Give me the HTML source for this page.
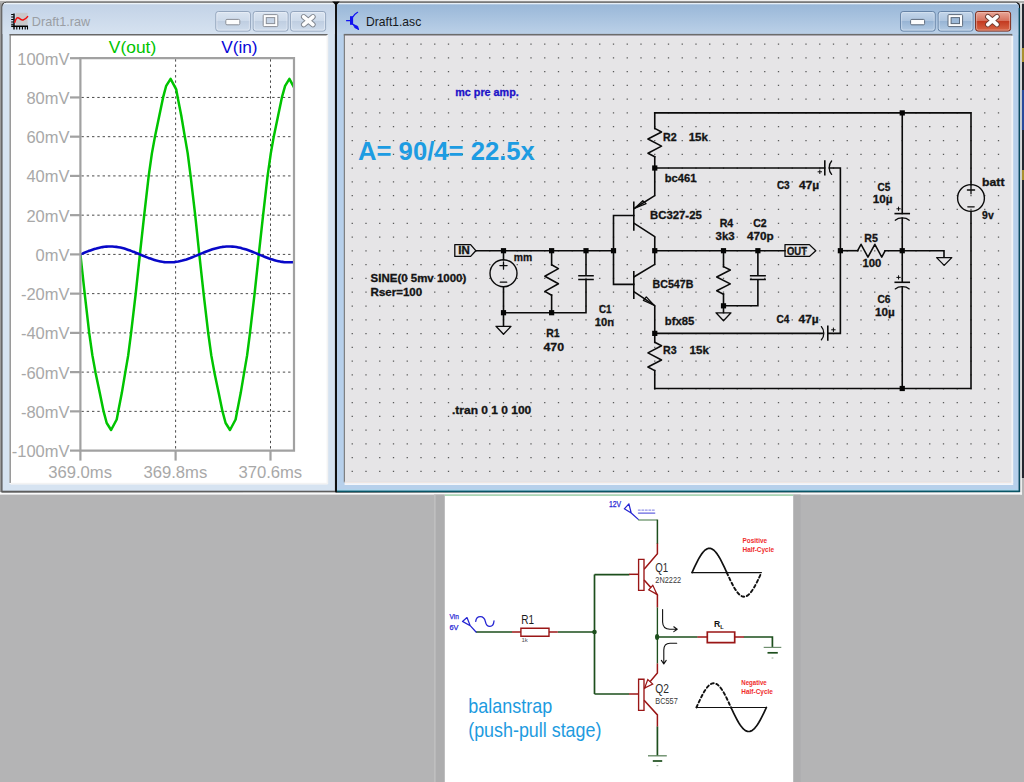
<!DOCTYPE html>
<html><head><meta charset="utf-8"><title>LTspice</title>
<style>html,body{margin:0;padding:0;background:#b4b4b5;overflow:hidden}svg{display:block}text{font-family:"Liberation Sans",sans-serif;white-space:pre}</style>
</head><body>
<svg width="1024" height="782" viewBox="0 0 1024 782">
<defs>
<linearGradient id="tl" x1="0" y1="0" x2="0" y2="1"><stop offset="0" stop-color="#e9eff7"/><stop offset="0.06" stop-color="#c3d3e7"/><stop offset="1" stop-color="#d6e2f0"/></linearGradient>
<linearGradient id="tr" x1="0" y1="0" x2="0" y2="1"><stop offset="0" stop-color="#e2ebf5"/><stop offset="0.06" stop-color="#9ab8d9"/><stop offset="1" stop-color="#bcd1e8"/></linearGradient>
<linearGradient id="bi" x1="0" y1="0" x2="0" y2="1"><stop offset="0" stop-color="#dbe5f1"/><stop offset="0.48" stop-color="#cddaea"/><stop offset="0.5" stop-color="#bfcee1"/><stop offset="1" stop-color="#cfdcec"/></linearGradient>
<linearGradient id="ba" x1="0" y1="0" x2="0" y2="1"><stop offset="0" stop-color="#c4d6ea"/><stop offset="0.48" stop-color="#aec5df"/><stop offset="0.5" stop-color="#97b4d4"/><stop offset="1" stop-color="#b4cbe4"/></linearGradient>
<linearGradient id="bc" x1="0" y1="0" x2="0" y2="1"><stop offset="0" stop-color="#e9a99a"/><stop offset="0.48" stop-color="#d6705c"/><stop offset="0.5" stop-color="#c33a20"/><stop offset="1" stop-color="#d8694a"/></linearGradient>
</defs>
<rect x="0" y="0" width="1024" height="782" fill="#b4b4b5"/>
<rect x="0" y="0" width="1024" height="3" fill="#efefef"/>
<rect x="0" y="1.2" width="1024" height="1.6" fill="#9f9f9f"/>
<rect x="0" y="492.2" width="1022" height="2.4" fill="#fafafa"/>
<rect x="0" y="3" width="1.4" height="489" fill="#9a9a9a"/>
<path d="M1.9 491.8 V7 Q1.9 2.6 6.5 2.6 H335.5 V491.4 Z" fill="#d6e3f1" stroke="#4d4d4d" stroke-width="1.2"/>
<path d="M2.6 34 V7.5 Q2.6 3.2 7 3.2 H334.8 V34 Z" fill="url(#tl)"/>
<rect x="6" y="1.3" width="329" height="1.6" fill="#8c8c8c"/>
<rect x="4" y="3" width="331" height="1" fill="#eef3f9" opacity="0.95"/>
<rect x="9.6" y="34" width="318" height="450" fill="#ffffff"/>
<rect x="9.6" y="34" width="318" height="1.5" fill="#686868"/>
<rect x="9.6" y="34" width="1.1" height="449" fill="#6f6f6f"/>
<rect x="10.6" y="482.8" width="317" height="1.8" fill="#f3f3f3"/>
<rect x="326.6" y="35" width="1.6" height="449" fill="#f3f3f3"/>
<rect x="2" y="490.7" width="333" height="1.6" fill="#5e5e5e"/>
<path d="M336.2 491.8 V2.6 H1015 Q1019.6 2.6 1019.6 7.5 V491.4 Z" fill="#b7d0eb" stroke="#111" stroke-width="1.3"/>
<path d="M337 35 V3.2 H1015 Q1018.8 3.2 1018.8 7.5 V35 Z" fill="url(#tr)"/>
<rect x="337.2" y="1.3" width="679" height="1.6" fill="#858585"/>
<rect x="337" y="3" width="680" height="1" fill="#e8eff7" opacity="0.95"/>
<rect x="344.3" y="35" width="668" height="446.6" fill="#e6e5e7"/>
<rect x="343.8" y="33.9" width="668.5" height="1.8" fill="#6c6c6c"/>
<rect x="345" y="35.7" width="666.4" height="1.6" fill="#e8e5ee"/>
<rect x="343.8" y="34.4" width="1.1" height="448" fill="#777"/>
<rect x="344.6" y="481.4" width="668.6" height="1.8" fill="#efe7e3"/><rect x="344.6" y="483.1" width="668.6" height="1.9" fill="#f4f6fa"/><rect x="337" y="489.7" width="682" height="1" fill="#9fdcee"/>
<rect x="1011.4" y="36" width="1.8" height="447" fill="#f5f5f5"/>
<rect x="336.8" y="490.6" width="683" height="1.6" fill="#0a5566"/>
<rect x="1018.6" y="8" width="1.6" height="484" fill="#0b4c60"/>
<rect x="335.2" y="3" width="1.6" height="489.3" fill="#0a0a0a"/>
<rect x="1020.3" y="3" width="1.6" height="491.5" fill="#f2f2f2"/>
<rect x="1021.9" y="4" width="2.2" height="474" fill="#23262e"/>
<rect x="1021.9" y="48" width="2.2" height="14" fill="#a89030"/>
<rect x="1021.9" y="170" width="2.2" height="10" fill="#a89030"/>
<rect x="1021.9" y="90" width="2.2" height="40" fill="#2a4a9a"/>
<g>
<rect x="15.8" y="12.8" width="11.8" height="12.6" fill="#c9c8ca"/>
<path d="M14 13.5 V29.5 M11.2 26.3 H28" stroke="#000" stroke-width="1.4" fill="none"/>
<path d="M11.2 14.5 h2.5 M11.2 17 h2.5 M11.2 19.5 h2.5 M11.2 22 h2.5 M11.2 24.3 h2.5" stroke="#000" stroke-width="1" fill="none"/>
<path d="M16.8 26.5 v3 M19.6 26.5 v3 M22.4 26.5 v3 M25.2 26.5 v3 M27.5 26.5 v3" stroke="#000" stroke-width="1.1" fill="none"/>
<path d="M14.8 22.3 C16.2 17.5 17.8 16.8 19.5 18.6 C21.5 20.8 24.5 20.6 27.6 16.6" stroke="#f20d0d" stroke-width="1.5" fill="none" stroke-linecap="round"/>
</g>
<text x="31.8" y="26.2" font-size="12.6" fill="#9a9ea4" font-weight="normal" text-anchor="start" textLength="58.4" lengthAdjust="spacingAndGlyphs">Draft1.raw</text>
<g stroke="#1212f2" fill="none" stroke-linecap="round">
<rect x="350" y="16.2" width="3.1" height="8.6" fill="#1212f2" stroke="none"/>
<path d="M346.6 20.7 H350.4" stroke-width="1.3"/>
<path d="M352.6 17.2 C354 15 355.6 13.4 357.6 12.3" stroke-width="1.2"/>
<path d="M352.6 24 L358.5 29.4" stroke-width="1.1"/>
<path d="M353.9 24.7 L357.7 26.3 L358.5 29.4 L355 27.8 Z" fill="#1212f2" stroke-width="0.8"/>
</g>
<text x="366" y="26.1" font-size="12.6" fill="#15181c" font-weight="normal" text-anchor="start" textLength="55.2" lengthAdjust="spacingAndGlyphs">Draft1.asc</text>
<path d="M332.2 1.6 H339.8 L336.6 5 H335.4 Z" fill="#0a0a0a"/>
<rect x="215.8" y="11.5" width="34.6" height="19.6" rx="2.5" fill="url(#bi)" stroke="#93a5bd" stroke-width="1"/>
<rect x="216.8" y="12.5" width="32.6" height="17.6" rx="2" fill="none" stroke="#eef3f9" stroke-width="0.8" opacity="0.7"/>
<rect x="253.2" y="11.5" width="34.8" height="19.6" rx="2.5" fill="url(#bi)" stroke="#93a5bd" stroke-width="1"/>
<rect x="254.2" y="12.5" width="32.8" height="17.6" rx="2" fill="none" stroke="#eef3f9" stroke-width="0.8" opacity="0.7"/>
<rect x="290.6" y="11.5" width="35" height="19.6" rx="2.5" fill="url(#bi)" stroke="#93a5bd" stroke-width="1"/>
<rect x="291.6" y="12.5" width="33" height="17.6" rx="2" fill="none" stroke="#eef3f9" stroke-width="0.8" opacity="0.7"/>
<rect x="225.8" y="19.4" width="14" height="5.4" rx="1.2" fill="#fdfdfd" stroke="#8a8f98" stroke-width="1"/>
<rect x="263.2" y="14.600000000000001" width="14.6" height="12" rx="1" fill="#fdfdfd" stroke="#8a8f98" stroke-width="1"/>
<rect x="266.3" y="17.6" width="8.4" height="6" fill="#c6d4e6" stroke="#8a8f98" stroke-width="1"/>
<g transform="translate(308.3 20.7)" stroke-linecap="round"><path d="M-4.6 -3.9 L4.6 3.9 M4.6 -3.9 L-4.6 3.9" stroke="#7f858e" stroke-width="5.5" fill="none"/><path d="M-4.6 -3.9 L4.6 3.9 M4.6 -3.9 L-4.6 3.9" stroke="#fdfdfd" stroke-width="3.7" fill="none"/></g>
<rect x="900.6" y="11.5" width="34.6" height="19.6" rx="2.5" fill="url(#ba)" stroke="#6683a6" stroke-width="1"/>
<rect x="901.6" y="12.5" width="32.6" height="17.6" rx="2" fill="none" stroke="#dfe9f4" stroke-width="0.8" opacity="0.7"/>
<rect x="938.2" y="11.5" width="34.8" height="19.6" rx="2.5" fill="url(#ba)" stroke="#6683a6" stroke-width="1"/>
<rect x="939.2" y="12.5" width="32.8" height="17.6" rx="2" fill="none" stroke="#dfe9f4" stroke-width="0.8" opacity="0.7"/>
<rect x="975.6" y="11.5" width="35" height="19.6" rx="2.5" fill="url(#bc)" stroke="#7a2a1a" stroke-width="1"/>
<rect x="976.6" y="12.5" width="33" height="17.6" rx="2" fill="none" stroke="#f3c6bb" stroke-width="0.8" opacity="0.7"/>
<rect x="910.6" y="19.4" width="14" height="5.4" rx="1.2" fill="#fdfdfd" stroke="#5d6b7c" stroke-width="1"/>
<rect x="948.0" y="14.600000000000001" width="14.6" height="12" rx="1" fill="#fdfdfd" stroke="#5d6b7c" stroke-width="1"/>
<rect x="951.0999999999999" y="17.6" width="8.4" height="6" fill="#9db9d8" stroke="#5d6b7c" stroke-width="1"/>
<g transform="translate(992.4 20.6)" stroke-linecap="round"><path d="M-4.6 -3.9 L4.6 3.9 M4.6 -3.9 L-4.6 3.9" stroke="#6b3a30" stroke-width="5.5" fill="none"/><path d="M-4.6 -3.9 L4.6 3.9 M4.6 -3.9 L-4.6 3.9" stroke="#fdfdfd" stroke-width="3.7" fill="none"/></g>
<path d="M81.4 97.44 H293.0" stroke="#4a4a4a" stroke-width="1" stroke-dasharray="2.4 2.9" fill="none"/>
<path d="M81.4 136.68 H293.0" stroke="#4a4a4a" stroke-width="1" stroke-dasharray="2.4 2.9" fill="none"/>
<path d="M81.4 175.92 H293.0" stroke="#4a4a4a" stroke-width="1" stroke-dasharray="2.4 2.9" fill="none"/>
<path d="M81.4 215.16 H293.0" stroke="#4a4a4a" stroke-width="1" stroke-dasharray="2.4 2.9" fill="none"/>
<path d="M81.4 254.40 H293.0" stroke="#4a4a4a" stroke-width="1" stroke-dasharray="2.4 2.9" fill="none"/>
<path d="M81.4 293.64 H293.0" stroke="#4a4a4a" stroke-width="1" stroke-dasharray="2.4 2.9" fill="none"/>
<path d="M81.4 332.88 H293.0" stroke="#4a4a4a" stroke-width="1" stroke-dasharray="2.4 2.9" fill="none"/>
<path d="M81.4 372.12 H293.0" stroke="#4a4a4a" stroke-width="1" stroke-dasharray="2.4 2.9" fill="none"/>
<path d="M81.4 411.36 H293.0" stroke="#4a4a4a" stroke-width="1" stroke-dasharray="2.4 2.9" fill="none"/>
<path d="M175.6 59.2 V449.6" stroke="#4a4a4a" stroke-width="1" stroke-dasharray="2.4 2.9" fill="none"/>
<path d="M270.5 59.2 V449.6" stroke="#4a4a4a" stroke-width="1" stroke-dasharray="2.4 2.9" fill="none"/>
<clipPath id="pc"><rect x="80.4" y="58.2" width="214.1" height="392.40000000000003"/></clipPath>
<polyline clip-path="url(#pc)" fill="none" stroke="#00c400" stroke-width="2.5" stroke-linejoin="round" points="80.4,254.4 84.7,293.6 89.2,332.9 92.4,355.4 95.6,372.9 99.8,393.1 103.6,411.4 106.7,423.0 111.1,430.0 116.7,419.5 118.2,411.4 121.8,393.1 125.2,372.9 128.2,355.4 131.1,332.9 135.7,293.6 139.9,254.4 144.2,215.2 148.7,175.9 151.9,153.4 155.1,135.9 159.3,115.7 163.1,97.4 166.2,85.8 170.6,78.8 176.2,89.3 177.7,97.4 181.3,115.7 184.7,135.9 187.7,153.4 190.6,175.9 195.2,215.2 199.3,254.4 203.6,293.6 208.2,332.9 211.3,355.4 214.5,372.9 218.7,393.1 222.5,411.4 225.6,423.0 230.0,430.0 235.6,419.5 237.1,411.4 240.7,393.1 244.1,372.9 247.1,355.4 250.0,332.9 254.6,293.6 258.8,254.4 263.1,215.2 267.6,175.9 270.8,153.4 273.9,135.9 278.1,115.7 281.9,97.4 285.1,85.8 289.4,78.8 295.1,89.3 296.6,97.4 300.1,115.7 303.6,135.9 306.6,153.4 309.4,175.9 314.1,215.2 318.2,254.4 322.5,293.6 327.1,332.9 330.2,355.4 333.4,372.9 337.6,393.1 341.4,411.4 344.5,423.0 348.9,430.0 354.5,419.5 356.0,411.4 359.6,393.1 363.0,372.9 366.0,355.4 368.9,332.9 373.5,293.6"/>
<polyline clip-path="url(#pc)" fill="none" stroke="#0808c8" stroke-width="2.6" stroke-linejoin="round" points="80.4,254.4 82.4,253.6 84.4,252.7 86.4,251.9 88.4,251.1 90.4,250.4 92.4,249.7 94.4,249.0 96.4,248.5 98.4,247.9 100.4,247.5 102.4,247.1 104.4,246.8 106.4,246.6 108.4,246.5 110.4,246.5 112.4,246.5 114.4,246.7 116.4,246.9 118.4,247.2 120.4,247.6 122.4,248.1 124.4,248.6 126.4,249.2 128.4,249.9 130.4,250.6 132.4,251.4 134.4,252.1 136.4,253.0 138.4,253.8 140.4,254.6 142.4,255.5 144.4,256.3 146.4,257.1 148.4,257.9 150.4,258.6 152.4,259.3 154.4,259.9 156.4,260.5 158.4,261.0 160.4,261.4 162.4,261.8 164.4,262.1 166.4,262.2 168.4,262.3 170.4,262.3 172.4,262.3 174.4,262.1 176.4,261.8 178.4,261.5 180.4,261.1 182.4,260.6 184.4,260.0 186.4,259.4 188.4,258.7 190.4,258.0 192.4,257.2 194.4,256.4 196.4,255.6 198.4,254.8 200.4,253.9 202.4,253.1 204.4,252.3 206.4,251.5 208.4,250.7 210.4,250.0 212.4,249.3 214.4,248.7 216.4,248.2 218.4,247.7 220.4,247.3 222.4,246.9 224.4,246.7 226.4,246.5 228.4,246.5 230.4,246.5 232.4,246.6 234.4,246.8 236.4,247.0 238.4,247.4 240.4,247.8 242.4,248.4 244.4,248.9 246.4,249.6 248.4,250.3 250.4,251.0 252.4,251.8 254.4,252.6 256.4,253.4 258.4,254.3 260.4,255.1 262.4,255.9 264.4,256.7 266.4,257.5 268.4,258.3 270.4,259.0 272.4,259.6 274.4,260.2 276.4,260.8 278.4,261.2 280.4,261.6 282.4,261.9 284.4,262.2 286.4,262.3 288.4,262.3 290.4,262.3 292.4,262.2 294.4,262.0"/>
<path d="M80.4 450.6 V58.2 H294.0 V450.6 Z" fill="none" stroke="#a1a1a1" stroke-width="2.2"/>
<path d="M70 58.20 H80.4" stroke="#a1a1a1" stroke-width="2.2"/>
<path d="M70 97.44 H80.4" stroke="#a1a1a1" stroke-width="2.2"/>
<path d="M70 136.68 H80.4" stroke="#a1a1a1" stroke-width="2.2"/>
<path d="M70 175.92 H80.4" stroke="#a1a1a1" stroke-width="2.2"/>
<path d="M70 215.16 H80.4" stroke="#a1a1a1" stroke-width="2.2"/>
<path d="M70 254.40 H80.4" stroke="#a1a1a1" stroke-width="2.2"/>
<path d="M70 293.64 H80.4" stroke="#a1a1a1" stroke-width="2.2"/>
<path d="M70 332.88 H80.4" stroke="#a1a1a1" stroke-width="2.2"/>
<path d="M70 372.12 H80.4" stroke="#a1a1a1" stroke-width="2.2"/>
<path d="M70 411.36 H80.4" stroke="#a1a1a1" stroke-width="2.2"/>
<path d="M70 450.60 H80.4" stroke="#a1a1a1" stroke-width="2.2"/>
<path d="M80.4 450.6 V460.6" stroke="#a1a1a1" stroke-width="2.2"/>
<path d="M175.6 450.6 V460.6" stroke="#a1a1a1" stroke-width="2.2"/>
<path d="M270.5 450.6 V460.6" stroke="#a1a1a1" stroke-width="2.2"/>
<text transform="translate(69.5 64.6) scale(0.948 1)" font-size="17.4" fill="#a8a8a8" text-anchor="end">100mV</text>
<text transform="translate(69.5 103.8) scale(0.948 1)" font-size="17.4" fill="#a8a8a8" text-anchor="end">80mV</text>
<text transform="translate(69.5 143.1) scale(0.948 1)" font-size="17.4" fill="#a8a8a8" text-anchor="end">60mV</text>
<text transform="translate(69.5 182.3) scale(0.948 1)" font-size="17.4" fill="#a8a8a8" text-anchor="end">40mV</text>
<text transform="translate(69.5 221.6) scale(0.948 1)" font-size="17.4" fill="#a8a8a8" text-anchor="end">20mV</text>
<text transform="translate(69.5 260.8) scale(0.948 1)" font-size="17.4" fill="#a8a8a8" text-anchor="end">0mV</text>
<text transform="translate(69.5 300.0) scale(0.948 1)" font-size="17.4" fill="#a8a8a8" text-anchor="end">-20mV</text>
<text transform="translate(69.5 339.3) scale(0.948 1)" font-size="17.4" fill="#a8a8a8" text-anchor="end">-40mV</text>
<text transform="translate(69.5 378.5) scale(0.948 1)" font-size="17.4" fill="#a8a8a8" text-anchor="end">-60mV</text>
<text transform="translate(69.5 417.8) scale(0.948 1)" font-size="17.4" fill="#a8a8a8" text-anchor="end">-80mV</text>
<text transform="translate(69.5 457.0) scale(0.948 1)" font-size="17.4" fill="#a8a8a8" text-anchor="end">-100mV</text>
<text x="48.2" y="477.6" font-size="17.3" fill="#a8a8a8" font-weight="normal" text-anchor="start" textLength="63.8" lengthAdjust="spacingAndGlyphs">369.0ms</text>
<text x="143.5" y="477.6" font-size="17.3" fill="#a8a8a8" font-weight="normal" text-anchor="start" textLength="63.8" lengthAdjust="spacingAndGlyphs">369.8ms</text>
<text x="238.4" y="477.6" font-size="17.3" fill="#a8a8a8" font-weight="normal" text-anchor="start" textLength="63.8" lengthAdjust="spacingAndGlyphs">370.6ms</text>
<text x="108.8" y="52.5" font-size="17.3" fill="#00c400" font-weight="normal" text-anchor="start" textLength="47.4" lengthAdjust="spacingAndGlyphs">V(out)</text>
<text x="221.2" y="52.5" font-size="17.3" fill="#0808d8" font-weight="normal" text-anchor="start" textLength="36.4" lengthAdjust="spacingAndGlyphs">V(in)</text>
<path d="M351.6 44.00 H1000" stroke="#5a5a5a" stroke-width="1.25" stroke-dasharray="1.3 12.45" fill="none"/>
<path d="M351.6 57.79 H1000" stroke="#5a5a5a" stroke-width="1.25" stroke-dasharray="1.3 12.45" fill="none"/>
<path d="M351.6 71.58 H1000" stroke="#5a5a5a" stroke-width="1.25" stroke-dasharray="1.3 12.45" fill="none"/>
<path d="M351.6 85.37 H1000" stroke="#5a5a5a" stroke-width="1.25" stroke-dasharray="1.3 12.45" fill="none"/>
<path d="M351.6 99.16 H1000" stroke="#5a5a5a" stroke-width="1.25" stroke-dasharray="1.3 12.45" fill="none"/>
<path d="M351.6 112.95 H1000" stroke="#5a5a5a" stroke-width="1.25" stroke-dasharray="1.3 12.45" fill="none"/>
<path d="M351.6 126.74 H1000" stroke="#5a5a5a" stroke-width="1.25" stroke-dasharray="1.3 12.45" fill="none"/>
<path d="M351.6 140.53 H1000" stroke="#5a5a5a" stroke-width="1.25" stroke-dasharray="1.3 12.45" fill="none"/>
<path d="M351.6 154.32 H1000" stroke="#5a5a5a" stroke-width="1.25" stroke-dasharray="1.3 12.45" fill="none"/>
<path d="M351.6 168.11 H1000" stroke="#5a5a5a" stroke-width="1.25" stroke-dasharray="1.3 12.45" fill="none"/>
<path d="M351.6 181.90 H1000" stroke="#5a5a5a" stroke-width="1.25" stroke-dasharray="1.3 12.45" fill="none"/>
<path d="M351.6 195.69 H1000" stroke="#5a5a5a" stroke-width="1.25" stroke-dasharray="1.3 12.45" fill="none"/>
<path d="M351.6 209.48 H1000" stroke="#5a5a5a" stroke-width="1.25" stroke-dasharray="1.3 12.45" fill="none"/>
<path d="M351.6 223.27 H1000" stroke="#5a5a5a" stroke-width="1.25" stroke-dasharray="1.3 12.45" fill="none"/>
<path d="M351.6 237.06 H1000" stroke="#5a5a5a" stroke-width="1.25" stroke-dasharray="1.3 12.45" fill="none"/>
<path d="M351.6 250.85 H1000" stroke="#5a5a5a" stroke-width="1.25" stroke-dasharray="1.3 12.45" fill="none"/>
<path d="M351.6 264.64 H1000" stroke="#5a5a5a" stroke-width="1.25" stroke-dasharray="1.3 12.45" fill="none"/>
<path d="M351.6 278.43 H1000" stroke="#5a5a5a" stroke-width="1.25" stroke-dasharray="1.3 12.45" fill="none"/>
<path d="M351.6 292.22 H1000" stroke="#5a5a5a" stroke-width="1.25" stroke-dasharray="1.3 12.45" fill="none"/>
<path d="M351.6 306.01 H1000" stroke="#5a5a5a" stroke-width="1.25" stroke-dasharray="1.3 12.45" fill="none"/>
<path d="M351.6 319.80 H1000" stroke="#5a5a5a" stroke-width="1.25" stroke-dasharray="1.3 12.45" fill="none"/>
<path d="M351.6 333.59 H1000" stroke="#5a5a5a" stroke-width="1.25" stroke-dasharray="1.3 12.45" fill="none"/>
<path d="M351.6 347.38 H1000" stroke="#5a5a5a" stroke-width="1.25" stroke-dasharray="1.3 12.45" fill="none"/>
<path d="M351.6 361.17 H1000" stroke="#5a5a5a" stroke-width="1.25" stroke-dasharray="1.3 12.45" fill="none"/>
<path d="M351.6 374.96 H1000" stroke="#5a5a5a" stroke-width="1.25" stroke-dasharray="1.3 12.45" fill="none"/>
<path d="M351.6 388.75 H1000" stroke="#5a5a5a" stroke-width="1.25" stroke-dasharray="1.3 12.45" fill="none"/>
<path d="M351.6 402.54 H1000" stroke="#5a5a5a" stroke-width="1.25" stroke-dasharray="1.3 12.45" fill="none"/>
<path d="M351.6 416.33 H1000" stroke="#5a5a5a" stroke-width="1.25" stroke-dasharray="1.3 12.45" fill="none"/>
<path d="M351.6 430.12 H1000" stroke="#5a5a5a" stroke-width="1.25" stroke-dasharray="1.3 12.45" fill="none"/>
<path d="M351.6 443.91 H1000" stroke="#5a5a5a" stroke-width="1.25" stroke-dasharray="1.3 12.45" fill="none"/>
<path d="M351.6 457.70 H1000" stroke="#5a5a5a" stroke-width="1.25" stroke-dasharray="1.3 12.45" fill="none"/>
<path d="M351.6 471.49 H1000" stroke="#5a5a5a" stroke-width="1.25" stroke-dasharray="1.3 12.45" fill="none"/>
<path d="M454.8 244.6 H470.6 L475.8 250.7 L470.6 256.4 H454.8 Z" stroke="#0a0a0a" stroke-width="1.3" fill="none" stroke-linejoin="round" stroke-linecap="round"/>
<text x="458.2" y="254.4" font-size="10.4" fill="#141414" font-weight="bold" text-anchor="start" textLength="11.5" lengthAdjust="spacingAndGlyphs" stroke="#141414" stroke-width="0.3">IN</text>
<path d="M476 250.7 H613.5" stroke="#0a0a0a" stroke-width="1.6" fill="none" stroke-linejoin="miter" stroke-linecap="square"/>
<path d="M503.5 250.7 V259.8" stroke="#0a0a0a" stroke-width="1.6" fill="none" stroke-linejoin="miter" stroke-linecap="square"/>
<circle cx="503.5" cy="273.3" r="13.5" fill="none" stroke="#0a0a0a" stroke-width="1.4"/>
<path d="M499.9 265.6 H507.1 M503.5 262 V269.2" stroke="#0a0a0a" stroke-width="1.3" fill="none" stroke-linejoin="round" stroke-linecap="round"/>
<path d="M500.3 282.2 H506.7" stroke="#0a0a0a" stroke-width="1.3" fill="none" stroke-linejoin="round" stroke-linecap="round"/>
<path d="M503.5 286.8 V312.71 H586.0 V280" stroke="#0a0a0a" stroke-width="1.6" fill="none" stroke-linejoin="miter" stroke-linecap="square"/>
<path d="M496.00 326.3 H511.00 L503.50 334.3 Z" stroke="#0a0a0a" stroke-width="1.3" fill="none" stroke-linejoin="round" stroke-linecap="round"/>
<path d="M503.5 312.71 V326" stroke="#0a0a0a" stroke-width="1.6" fill="none" stroke-linejoin="miter" stroke-linecap="square"/>
<path d="M551.62 250.7 V265" stroke="#0a0a0a" stroke-width="1.6" fill="none" stroke-linejoin="miter" stroke-linecap="square"/>
<path d="M551.62 264.80 L558.42 268.60 L544.82 276.20 L558.42 283.80 L544.82 291.40 L551.62 295.20" stroke="#0a0a0a" stroke-width="1.55" fill="none" stroke-linejoin="round" stroke-linecap="round"/>
<path d="M551.62 295 V312.71" stroke="#0a0a0a" stroke-width="1.6" fill="none" stroke-linejoin="miter" stroke-linecap="square"/>
<path d="M586.0 250.7 V275.2" stroke="#0a0a0a" stroke-width="1.6" fill="none" stroke-linejoin="miter" stroke-linecap="square"/>
<path d="M579.0 275.7 H593.0 M579.0 279.5 H593.0" stroke="#0a0a0a" stroke-width="1.6" fill="none" stroke-linejoin="miter" stroke-linecap="square"/>
<rect x="500.90" y="248.10" width="5.2" height="5.2" fill="#050505"/>
<rect x="549.02" y="248.10" width="5.2" height="5.2" fill="#050505"/>
<rect x="583.40" y="248.10" width="5.2" height="5.2" fill="#050505"/>
<rect x="610.90" y="248.10" width="5.2" height="5.2" fill="#050505"/>
<rect x="500.90" y="310.11" width="5.2" height="5.2" fill="#050505"/>
<rect x="549.02" y="310.11" width="5.2" height="5.2" fill="#050505"/>
<path d="M613.5 215.5 V284.4 M613.5 215.5 H633.8 M613.5 284.4 H633.8" stroke="#0a0a0a" stroke-width="1.6" fill="none" stroke-linejoin="miter" stroke-linecap="square"/>
<path d="M633.8 202.4 V230" stroke="#0a0a0a" stroke-width="1.6" fill="none" stroke-linejoin="miter" stroke-linecap="square"/>
<path d="M633.8 271.9 V298.2" stroke="#0a0a0a" stroke-width="1.6" fill="none" stroke-linejoin="miter" stroke-linecap="square"/>
<path d="M654.75 168.02 V195.6 L634.2 208.5" stroke="#0a0a0a" stroke-width="1.6" fill="none" stroke-linejoin="round" stroke-linecap="round"/>
<path d="M634.2 223.3 L654.75 236.7 V250.7" stroke="#0a0a0a" stroke-width="1.6" fill="none" stroke-linejoin="round" stroke-linecap="round"/>
<path d="M634.8 208.2 L642.8 200.7 L646.1 203.7 Z" stroke="#0a0a0a" stroke-width="1.25" fill="none" stroke-linejoin="round" stroke-linecap="round"/>
<path d="M654.75 250.7 V264.4 L634.2 276.8" stroke="#0a0a0a" stroke-width="1.6" fill="none" stroke-linejoin="round" stroke-linecap="round"/>
<path d="M634.2 291.8 L654.75 305.6 V333.38" stroke="#0a0a0a" stroke-width="1.6" fill="none" stroke-linejoin="round" stroke-linecap="round"/>
<path d="M654 305.2 L643.4 300.4 L646.3 296.9 Z" stroke="#0a0a0a" stroke-width="1.25" fill="none" stroke-linejoin="round" stroke-linecap="round"/>
<path d="M654.75 112.9 V128.6" stroke="#0a0a0a" stroke-width="1.6" fill="none" stroke-linejoin="miter" stroke-linecap="square"/>
<path d="M654.75 128.40 L661.55 131.95 L647.95 139.05 L661.55 146.15 L647.95 153.25 L654.75 156.80" stroke="#0a0a0a" stroke-width="1.55" fill="none" stroke-linejoin="round" stroke-linecap="round"/>
<path d="M654.75 156.8 V168.02" stroke="#0a0a0a" stroke-width="1.6" fill="none" stroke-linejoin="miter" stroke-linecap="square"/>
<path d="M654.75 333.38 V342.4" stroke="#0a0a0a" stroke-width="1.6" fill="none" stroke-linejoin="miter" stroke-linecap="square"/>
<path d="M654.75 342.20 L661.55 345.75 L647.95 352.85 L661.55 359.95 L647.95 367.05 L654.75 370.60" stroke="#0a0a0a" stroke-width="1.55" fill="none" stroke-linejoin="round" stroke-linecap="round"/>
<path d="M654.75 370.6 V388.5" stroke="#0a0a0a" stroke-width="1.6" fill="none" stroke-linejoin="miter" stroke-linecap="square"/>
<path d="M654.75 112.9 H971.0 V184.6 M971.0 211.4 V388.5 H654.75" stroke="#0a0a0a" stroke-width="1.6" fill="none" stroke-linejoin="miter" stroke-linecap="square"/>
<circle cx="971.0" cy="198" r="13.4" fill="none" stroke="#0a0a0a" stroke-width="1.4"/>
<path d="M967.4 190 H974.6 M971.0 184.6 V193.8" stroke="#0a0a0a" stroke-width="1.3" fill="none" stroke-linejoin="round" stroke-linecap="round"/>
<path d="M967.8 206.8 H974.2" stroke="#0a0a0a" stroke-width="1.3" fill="none" stroke-linejoin="round" stroke-linecap="round"/>
<path d="M654.75 250.7 H785" stroke="#0a0a0a" stroke-width="1.6" fill="none" stroke-linejoin="miter" stroke-linecap="square"/>
<path d="M785 244.6 H809.4 L815.8 250.7 L809.4 256.4 H785 Z" stroke="#0a0a0a" stroke-width="1.3" fill="none" stroke-linejoin="round" stroke-linecap="round"/>
<text x="787" y="254.5" font-size="10.4" fill="#141414" font-weight="bold" text-anchor="start" textLength="20" lengthAdjust="spacingAndGlyphs" stroke="#141414" stroke-width="0.3">OUT</text>
<path d="M723.5 250.7 V266.8" stroke="#0a0a0a" stroke-width="1.6" fill="none" stroke-linejoin="miter" stroke-linecap="square"/>
<path d="M723.50 266.60 L730.30 270.05 L716.70 276.95 L730.30 283.85 L716.70 290.75 L723.50 294.20" stroke="#0a0a0a" stroke-width="1.55" fill="none" stroke-linejoin="round" stroke-linecap="round"/>
<path d="M723.5 294 V312.6" stroke="#0a0a0a" stroke-width="1.6" fill="none" stroke-linejoin="miter" stroke-linecap="square"/>
<path d="M716.00 312.8 H731.00 L723.50 320.8 Z" stroke="#0a0a0a" stroke-width="1.3" fill="none" stroke-linejoin="round" stroke-linecap="round"/>
<path d="M723.5 305.82 H757.88 V280 M757.88 250.7 V275.2" stroke="#0a0a0a" stroke-width="1.6" fill="none" stroke-linejoin="miter" stroke-linecap="square"/>
<path d="M750.68 275.7 H765.08 M750.68 279.5 H765.08" stroke="#0a0a0a" stroke-width="1.6" fill="none" stroke-linejoin="miter" stroke-linecap="square"/>
<path d="M654.75 168.02 H824.6" stroke="#0a0a0a" stroke-width="1.6" fill="none" stroke-linejoin="miter" stroke-linecap="square"/>
<path d="M824.8 161 V174.6" stroke="#0a0a0a" stroke-width="1.6" fill="none" stroke-linejoin="miter" stroke-linecap="square"/>
<path d="M831.6 161 C828.4 164.6 828.4 170.6 831.6 174.4" stroke="#0a0a0a" stroke-width="1.3" fill="none" stroke-linejoin="round" stroke-linecap="round"/>
<path d="M829.4 168.02 H840.38 V333.38 H828" stroke="#0a0a0a" stroke-width="1.6" fill="none" stroke-linejoin="miter" stroke-linecap="square"/>
<path d="M818 171.8 h3.6 M819.8 170 v3.6" stroke="#0a0a0a" stroke-width="1" fill="none" stroke-linejoin="round" stroke-linecap="round"/>
<path d="M654.75 333.38 H822.6" stroke="#0a0a0a" stroke-width="1.6" fill="none" stroke-linejoin="miter" stroke-linecap="square"/>
<path d="M827.8 326.4 V340" stroke="#0a0a0a" stroke-width="1.6" fill="none" stroke-linejoin="miter" stroke-linecap="square"/>
<path d="M821.4 326.6 C824.6 330.2 824.6 336.2 821.4 339.8" stroke="#0a0a0a" stroke-width="1.3" fill="none" stroke-linejoin="round" stroke-linecap="round"/>
<path d="M831.6 329.8 h3.6 M833.4 328 v3.6" stroke="#0a0a0a" stroke-width="1" fill="none" stroke-linejoin="round" stroke-linecap="round"/>
<path d="M840.38 250.7 H857.8" stroke="#0a0a0a" stroke-width="1.6" fill="none" stroke-linejoin="miter" stroke-linecap="square"/>
<path d="M857.60 250.70 L861.05 244.30 L867.95 257.10 L874.85 244.30 L881.75 257.10 L885.20 250.70" stroke="#0a0a0a" stroke-width="1.55" fill="none" stroke-linejoin="round" stroke-linecap="round"/>
<path d="M885 250.7 H944 V257" stroke="#0a0a0a" stroke-width="1.6" fill="none" stroke-linejoin="miter" stroke-linecap="square"/>
<path d="M936.6 257.6 H951.8 L944.2 265.4 Z" stroke="#0a0a0a" stroke-width="1.3" fill="none" stroke-linejoin="round" stroke-linecap="round"/>
<path d="M902.25 112.9 V213.4 M902.25 218.4 V282 M902.25 287 V388.5" stroke="#0a0a0a" stroke-width="1.6" fill="none" stroke-linejoin="miter" stroke-linecap="square"/>
<path d="M895.25 213.6 H909.25" stroke="#0a0a0a" stroke-width="1.6" fill="none" stroke-linejoin="miter" stroke-linecap="square"/>
<path d="M895.25 220.2 C898.85 217.2 905.65 217.2 909.25 220.2" stroke="#0a0a0a" stroke-width="1.3" fill="none" stroke-linejoin="round" stroke-linecap="round"/>
<path d="M895.25 282.3 H909.25" stroke="#0a0a0a" stroke-width="1.6" fill="none" stroke-linejoin="miter" stroke-linecap="square"/>
<path d="M895.25 288.9 C898.85 285.9 905.65 285.9 909.25 288.9" stroke="#0a0a0a" stroke-width="1.3" fill="none" stroke-linejoin="round" stroke-linecap="round"/>
<path d="M896.85 208.8 h3.4 M898.55 207.1 v3.4" stroke="#0a0a0a" stroke-width="1" fill="none" stroke-linejoin="round" stroke-linecap="round"/>
<path d="M896.85 277.4 h3.4 M898.55 275.7 v3.4" stroke="#0a0a0a" stroke-width="1" fill="none" stroke-linejoin="round" stroke-linecap="round"/>
<rect x="652.15" y="165.42" width="5.2" height="5.2" fill="#050505"/>
<rect x="652.15" y="248.10" width="5.2" height="5.2" fill="#050505"/>
<rect x="652.15" y="330.78" width="5.2" height="5.2" fill="#050505"/>
<rect x="720.90" y="248.10" width="5.2" height="5.2" fill="#050505"/>
<rect x="755.28" y="248.10" width="5.2" height="5.2" fill="#050505"/>
<rect x="720.90" y="303.22" width="5.2" height="5.2" fill="#050505"/>
<rect x="837.78" y="248.10" width="5.2" height="5.2" fill="#050505"/>
<rect x="899.65" y="248.10" width="5.2" height="5.2" fill="#050505"/>
<rect x="899.65" y="110.30" width="5.2" height="5.2" fill="#050505"/>
<rect x="899.65" y="385.90" width="5.2" height="5.2" fill="#050505"/>
<text x="663" y="141.2" font-size="10.6" fill="#141414" font-weight="bold" text-anchor="start" textLength="13.6" lengthAdjust="spacingAndGlyphs" stroke="#141414" stroke-width="0.3">R2</text>
<text x="688.7" y="141.2" font-size="10.6" fill="#141414" font-weight="bold" text-anchor="start" textLength="19.3" lengthAdjust="spacingAndGlyphs" stroke="#141414" stroke-width="0.3">15k</text>
<text x="664.8" y="182" font-size="10.6" fill="#141414" font-weight="bold" text-anchor="start" textLength="31.6" lengthAdjust="spacingAndGlyphs" stroke="#141414" stroke-width="0.3">bc461</text>
<text x="650" y="218.8" font-size="10.6" fill="#141414" font-weight="bold" text-anchor="start" textLength="51.8" lengthAdjust="spacingAndGlyphs" stroke="#141414" stroke-width="0.3">BC327-25</text>
<text x="652.6" y="287.9" font-size="10.6" fill="#141414" font-weight="bold" text-anchor="start" textLength="40.8" lengthAdjust="spacingAndGlyphs" stroke="#141414" stroke-width="0.3">BC547B</text>
<text x="664.8" y="324.5" font-size="10.6" fill="#141414" font-weight="bold" text-anchor="start" textLength="29.6" lengthAdjust="spacingAndGlyphs" stroke="#141414" stroke-width="0.3">bfx85</text>
<text x="663" y="354.2" font-size="10.6" fill="#141414" font-weight="bold" text-anchor="start" textLength="13.6" lengthAdjust="spacingAndGlyphs" stroke="#141414" stroke-width="0.3">R3</text>
<text x="689.6" y="354.2" font-size="10.6" fill="#141414" font-weight="bold" text-anchor="start" textLength="19.3" lengthAdjust="spacingAndGlyphs" stroke="#141414" stroke-width="0.3">15k</text>
<text x="719.7" y="227.4" font-size="10.6" fill="#141414" font-weight="bold" text-anchor="start" textLength="13.6" lengthAdjust="spacingAndGlyphs" stroke="#141414" stroke-width="0.3">R4</text>
<text x="715.6" y="239.9" font-size="10.6" fill="#141414" font-weight="bold" text-anchor="start" textLength="19.1" lengthAdjust="spacingAndGlyphs" stroke="#141414" stroke-width="0.3">3k3</text>
<text x="753.2" y="227.4" font-size="10.6" fill="#141414" font-weight="bold" text-anchor="start" textLength="13.4" lengthAdjust="spacingAndGlyphs" stroke="#141414" stroke-width="0.3">C2</text>
<text x="747" y="239.9" font-size="10.6" fill="#141414" font-weight="bold" text-anchor="start" textLength="26.8" lengthAdjust="spacingAndGlyphs" stroke="#141414" stroke-width="0.3">470p</text>
<text x="776.9" y="188.8" font-size="10.6" fill="#141414" font-weight="bold" text-anchor="start" textLength="12.8" lengthAdjust="spacingAndGlyphs" stroke="#141414" stroke-width="0.3">C3</text>
<text x="799" y="188.8" font-size="10.6" fill="#141414" font-weight="bold" text-anchor="start" textLength="20.2" lengthAdjust="spacingAndGlyphs" stroke="#141414" stroke-width="0.3">47µ</text>
<text x="776.5" y="323.1" font-size="10.6" fill="#141414" font-weight="bold" text-anchor="start" textLength="12.8" lengthAdjust="spacingAndGlyphs" stroke="#141414" stroke-width="0.3">C4</text>
<text x="798.5" y="323.1" font-size="10.6" fill="#141414" font-weight="bold" text-anchor="start" textLength="20.2" lengthAdjust="spacingAndGlyphs" stroke="#141414" stroke-width="0.3">47µ</text>
<text x="877.5" y="191.2" font-size="10.6" fill="#141414" font-weight="bold" text-anchor="start" textLength="12.8" lengthAdjust="spacingAndGlyphs" stroke="#141414" stroke-width="0.3">C5</text>
<text x="872.8" y="202.9" font-size="10.6" fill="#141414" font-weight="bold" text-anchor="start" textLength="19.8" lengthAdjust="spacingAndGlyphs" stroke="#141414" stroke-width="0.3">10µ</text>
<text x="877.5" y="302.6" font-size="10.6" fill="#141414" font-weight="bold" text-anchor="start" textLength="13" lengthAdjust="spacingAndGlyphs" stroke="#141414" stroke-width="0.3">C6</text>
<text x="875" y="315.7" font-size="10.6" fill="#141414" font-weight="bold" text-anchor="start" textLength="19.8" lengthAdjust="spacingAndGlyphs" stroke="#141414" stroke-width="0.3">10µ</text>
<text x="864.3" y="241.8" font-size="10.6" fill="#141414" font-weight="bold" text-anchor="start" textLength="13.6" lengthAdjust="spacingAndGlyphs" stroke="#141414" stroke-width="0.3">R5</text>
<text x="862.4" y="267.4" font-size="10.6" fill="#141414" font-weight="bold" text-anchor="start" textLength="18.8" lengthAdjust="spacingAndGlyphs" stroke="#141414" stroke-width="0.3">100</text>
<text x="982.1" y="185.9" font-size="10.6" fill="#141414" font-weight="bold" text-anchor="start" textLength="22.4" lengthAdjust="spacingAndGlyphs" stroke="#141414" stroke-width="0.3">batt</text>
<text x="982.1" y="219.4" font-size="10.6" fill="#141414" font-weight="bold" text-anchor="start" textLength="11.6" lengthAdjust="spacingAndGlyphs" stroke="#141414" stroke-width="0.3">9v</text>
<text x="599" y="312.5" font-size="10.6" fill="#141414" font-weight="bold" text-anchor="start" textLength="12.6" lengthAdjust="spacingAndGlyphs" stroke="#141414" stroke-width="0.3">C1</text>
<text x="594.7" y="326.1" font-size="10.6" fill="#141414" font-weight="bold" text-anchor="start" textLength="19.3" lengthAdjust="spacingAndGlyphs" stroke="#141414" stroke-width="0.3">10n</text>
<text x="546.2" y="336.8" font-size="10.6" fill="#141414" font-weight="bold" text-anchor="start" textLength="13.4" lengthAdjust="spacingAndGlyphs" stroke="#141414" stroke-width="0.3">R1</text>
<text x="543.5" y="350.5" font-size="10.6" fill="#141414" font-weight="bold" text-anchor="start" textLength="20.6" lengthAdjust="spacingAndGlyphs" stroke="#141414" stroke-width="0.3">470</text>
<text x="513.8" y="261.1" font-size="10.6" fill="#141414" font-weight="bold" text-anchor="start" textLength="18.4" lengthAdjust="spacingAndGlyphs" stroke="#141414" stroke-width="0.3">mm</text>
<text x="370.6" y="282" font-size="10.6" fill="#141414" font-weight="bold" text-anchor="start" textLength="95.7" lengthAdjust="spacingAndGlyphs" stroke="#141414" stroke-width="0.3">SINE(0 5mv 1000)</text>
<text x="370.6" y="295.7" font-size="10.6" fill="#141414" font-weight="bold" text-anchor="start" textLength="51.6" lengthAdjust="spacingAndGlyphs" stroke="#141414" stroke-width="0.3">Rser=100</text>
<text x="452" y="413.7" font-size="10.6" fill="#141414" font-weight="bold" text-anchor="start" textLength="79.3" lengthAdjust="spacingAndGlyphs" stroke="#141414" stroke-width="0.3">.tran 0 1 0 100</text>
<text x="455.2" y="96.3" font-size="10.6" fill="#1c12c8" font-weight="bold" text-anchor="start" textLength="63.6" lengthAdjust="spacingAndGlyphs" stroke="#1c12c8" stroke-width="0.3">mc pre amp.</text>
<text x="358" y="160" font-size="26.1" fill="#1d9ce2" font-weight="bold" text-anchor="start" textLength="176.8" lengthAdjust="spacingAndGlyphs">A= 90/4= 22.5x</text>
<rect x="434.2" y="494.5" width="10.6" height="288" fill="#adadae"/>
<rect x="434.3" y="494.5" width="1.2" height="288" fill="#c6c6c6"/>
<rect x="793" y="494.5" width="7.6" height="288" fill="#adadae"/>
<rect x="444.8" y="494.3" width="348.4" height="288.5" fill="#ffffff"/>
<rect x="444.8" y="494.5" width="348.4" height="1.2" fill="#86c494"/>
<path d="M476 632 H512 M557.8 632 H594.5" stroke="#1d4f1d" stroke-width="1.7" fill="none" stroke-linecap="butt" stroke-linejoin="miter"/>
<path d="M512 632 H521 M549 632 H557.8" stroke="#9a1616" stroke-width="1.5" fill="none" stroke-linejoin="miter"/>
<path d="M520.9 628.2 H549 V636.3 H520.9 Z" stroke="#9a1616" stroke-width="1.4" fill="#fff" stroke-linejoin="miter"/>
<path d="M594.5 574.6 V694 M594.5 574.6 H629.4 M594.5 694 H629.2" stroke="#1d4f1d" stroke-width="1.7" fill="none" stroke-linecap="butt" stroke-linejoin="miter"/>
<circle cx="594.5" cy="632" r="2.3" fill="#1d4f1d"/>
<text x="521.2" y="623.8" font-size="12.8" fill="#1a1a1a" font-weight="normal" text-anchor="start" textLength="12.8" lengthAdjust="spacingAndGlyphs">R1</text>
<text x="521.4" y="642.4" font-size="5.6" fill="#555" font-weight="normal" text-anchor="start" textLength="6.4" lengthAdjust="spacingAndGlyphs">1k</text>
<text x="449.5" y="618.8" font-size="7.6" fill="#2424d2" font-weight="normal" text-anchor="start" textLength="9.4" lengthAdjust="spacingAndGlyphs" stroke="#2a2ad8" stroke-width="0.25">Vin</text>
<text x="449.5" y="629.7" font-size="7.6" fill="#2424d2" font-weight="normal" text-anchor="start" textLength="9" lengthAdjust="spacingAndGlyphs" stroke="#2a2ad8" stroke-width="0.25">6V</text>
<path d="M462.5 621.4 L467 617.6 L470.2 625.7 Z M470.2 625.7 L476 632" stroke="#2424d2" stroke-width="1.25" fill="none" stroke-linecap="round" stroke-linejoin="round"/>
<path d="M475.7 621.4 C476.6 615 484 615 485.4 621.6 C486.8 628.2 493.4 628 494 621" stroke="#2424d2" stroke-width="1.3" fill="none" stroke-linecap="round" stroke-linejoin="round"/>
<text x="609" y="506.8" font-size="8.8" fill="#2424d2" font-weight="normal" text-anchor="start" textLength="12.2" lengthAdjust="spacingAndGlyphs" stroke="#2a2ad8" stroke-width="0.25">12V</text>
<path d="M624.3 508.8 L628.9 503.8 L631.2 513 Z M631.2 513 L638.3 519.4" stroke="#2424d2" stroke-width="1.25" fill="none" stroke-linecap="round" stroke-linejoin="round"/>
<path d="M638.4 510.1 H654.8" stroke="#2424d2" stroke-width="1.3" fill="none" stroke-linecap="round" stroke-linejoin="round" stroke-dasharray="1.8 1.7" opacity="0.5" stroke-linecap="butt"/>
<path d="M638.4 513.1 H654.8" stroke="#2424d2" stroke-width="1.2" fill="none" stroke-linecap="round" stroke-linejoin="round" opacity="0.7"/>
<path d="M638.2 520 H657.4" stroke="#5d8a5d" stroke-width="1.2" fill="none"/>
<path d="M657.4 519.6 V544" stroke="#1d4f1d" stroke-width="1.5" fill="none" stroke-linecap="butt" stroke-linejoin="miter"/>
<path d="M657.4 543.6 V553.7 L644.1 569.2" stroke="#9a1616" stroke-width="1.5" fill="none" stroke-linejoin="miter"/>
<path d="M629.1 574.3 H638.6" stroke="#9a1616" stroke-width="1.5" fill="none" stroke-linejoin="miter"/>
<path d="M638.6 559.4 H644 V590.3 H638.6 Z" stroke="#9a1616" stroke-width="1.35" fill="#fff" stroke-linejoin="miter"/>
<path d="M644.1 579.9 L657.4 594.9 V607.6" stroke="#9a1616" stroke-width="1.5" fill="none" stroke-linejoin="miter"/>
<path d="M657 594.4 L648.7 589.9 L652.8 585.3 Z" stroke="#9a1616" stroke-width="1.2" fill="#fff" stroke-linejoin="miter"/>
<path d="M657.4 607.4 V663.6" stroke="#1d4f1d" stroke-width="1.35" fill="none" stroke-linecap="butt" stroke-linejoin="miter"/>
<path d="M657.4 663.5 V672.9 L644.1 688.7" stroke="#9a1616" stroke-width="1.5" fill="none" stroke-linejoin="miter"/>
<path d="M644.6 688 L647.8 679.6 L652.7 684.1 Z" stroke="#9a1616" stroke-width="1.2" fill="#fff" stroke-linejoin="miter"/>
<path d="M629.1 694 H638.6" stroke="#9a1616" stroke-width="1.5" fill="none" stroke-linejoin="miter"/>
<path d="M638.6 679.2 H644 V710.4 H638.6 Z" stroke="#9a1616" stroke-width="1.35" fill="#fff" stroke-linejoin="miter"/>
<path d="M644.1 700.3 L657.4 714.9 V726.8" stroke="#9a1616" stroke-width="1.5" fill="none" stroke-linejoin="miter"/>
<path d="M657.4 726.6 V755.8" stroke="#1d4f1d" stroke-width="1.7" fill="none" stroke-linecap="butt" stroke-linejoin="miter"/>
<path d="M648 755.8 H666.8" stroke="#5f855f" stroke-width="1.3"/>
<path d="M652.8 761 H662.2" stroke="#1d4f1d" stroke-width="1.7" fill="none" stroke-linecap="butt" stroke-linejoin="miter"/>
<path d="M656.5 765.7 H658.3" stroke="#9ab09a" stroke-width="1"/>
<path d="M657.4 637 H697.6 M743.8 637 H772.4 V647.4" stroke="#1d4f1d" stroke-width="1.7" fill="none" stroke-linecap="butt" stroke-linejoin="miter"/>
<path d="M697.4 637 H707.4 M734.6 637 H744" stroke="#9a1616" stroke-width="1.5" fill="none" stroke-linejoin="miter"/>
<path d="M707.3 632 H734.7 V642.6 H707.3 Z" stroke="#9a1616" stroke-width="1.7" fill="#fff" stroke-linejoin="miter"/>
<ellipse cx="657.1" cy="637" rx="2.1" ry="2.9" fill="#1d4f1d"/>
<path d="M763.7 647.4 H781.3" stroke="#6f8f6f" stroke-width="1.2"/>
<path d="M767.5 652.8 H777.8" stroke="#1d4f1d" stroke-width="1.7" fill="none" stroke-linecap="butt" stroke-linejoin="miter"/>
<path d="M771.6 658 H773.4" stroke="#9ab09a" stroke-width="1"/>
<text x="714" y="627.2" font-size="8.6" fill="#111" font-weight="bold" text-anchor="start">R</text>
<text x="720.2" y="628.6" font-size="5.6" fill="#111" font-weight="bold" text-anchor="start">L</text>
<text x="655.3" y="571.7" font-size="12.6" fill="#2a2a2a" font-weight="normal" text-anchor="start" textLength="12.9" lengthAdjust="spacingAndGlyphs">Q1</text>
<text x="655.3" y="582.7" font-size="8.5" fill="#3a3a3a" font-weight="normal" text-anchor="start" textLength="25.8" lengthAdjust="spacingAndGlyphs">2N2222</text>
<text x="655.3" y="693.2" font-size="12.6" fill="#2a2a2a" font-weight="normal" text-anchor="start" textLength="13.7" lengthAdjust="spacingAndGlyphs">Q2</text>
<text x="655.3" y="703.6" font-size="8.6" fill="#3a3a3a" font-weight="normal" text-anchor="start" textLength="22.5" lengthAdjust="spacingAndGlyphs">BC557</text>
<path d="M662.6 609.6 V622 Q662.8 629.2 670 629.3 H676.6 M673.8 626.8 L677.2 629.3 L673.8 631.6" stroke="#111" stroke-width="1.1" fill="none" stroke-linecap="round" stroke-linejoin="round"/>
<path d="M676.7 643.2 H670 Q663.9 643.2 663.8 650 V663.4 M661.4 660.4 L663.8 664 L666.2 660.4" stroke="#111" stroke-width="1.1" fill="none" stroke-linecap="round" stroke-linejoin="round"/>
<path d="M692 572.6 H761.4" stroke="#111" stroke-width="1.2" fill="none" stroke-linecap="round" stroke-linejoin="round"/>
<path d="M692.00 572.60 L693.24 569.88 L694.49 567.19 L695.73 564.57 L696.97 562.06 L698.21 559.67 L699.46 557.45 L700.70 555.42 L701.94 553.60 L703.19 552.02 L704.43 550.71 L705.67 549.66 L706.91 548.91 L708.16 548.45 L709.40 548.30 L710.64 548.45 L711.89 548.91 L713.13 549.66 L714.37 550.71 L715.61 552.02 L716.86 553.60 L718.10 555.42 L719.34 557.45 L720.59 559.67 L721.83 562.06 L723.07 564.57 L724.31 567.19 L725.56 569.88 L726.80 572.60" stroke="#111" stroke-width="1.7" fill="none" stroke-linecap="round" stroke-linejoin="round"/>
<path d="M726.80 572.60 L728.04 575.30 L729.27 577.96 L730.51 580.56 L731.74 583.06 L732.98 585.42 L734.21 587.63 L735.45 589.64 L736.69 591.44 L737.92 593.01 L739.16 594.31 L740.39 595.35 L741.63 596.10 L742.86 596.55 L744.10 596.70 L745.34 596.55 L746.57 596.10 L747.81 595.35 L749.04 594.31 L750.28 593.01 L751.51 591.44 L752.75 589.64 L753.99 587.63 L755.22 585.42 L756.46 583.06 L757.69 580.56 L758.93 577.96 L760.16 575.30 L761.40 572.60" stroke="#111" stroke-width="1.9" fill="none" stroke-linecap="round" stroke-linejoin="round" stroke-dasharray="2.9 2.7" stroke-linecap="butt"/>
<path d="M696.4 707.5 H766.4" stroke="#111" stroke-width="1.2" fill="none" stroke-linecap="round" stroke-linejoin="round"/>
<path d="M696.40 707.50 L697.64 704.78 L698.87 702.09 L700.11 699.47 L701.34 696.96 L702.58 694.57 L703.81 692.35 L705.05 690.32 L706.29 688.50 L707.52 686.92 L708.76 685.61 L709.99 684.56 L711.23 683.81 L712.46 683.35 L713.70 683.20 L714.94 683.35 L716.17 683.81 L717.41 684.56 L718.64 685.61 L719.88 686.92 L721.11 688.50 L722.35 690.32 L723.59 692.35 L724.82 694.57 L726.06 696.96 L727.29 699.47 L728.53 702.09 L729.76 704.78 L731.00 707.50" stroke="#111" stroke-width="1.9" fill="none" stroke-linecap="round" stroke-linejoin="round" stroke-dasharray="2.9 2.7" stroke-linecap="butt"/>
<path d="M731.00 707.50 L732.26 710.19 L733.53 712.84 L734.79 715.43 L736.06 717.91 L737.32 720.27 L738.59 722.46 L739.85 724.47 L741.11 726.26 L742.38 727.82 L743.64 729.12 L744.91 730.15 L746.17 730.90 L747.44 731.35 L748.70 731.50 L749.96 731.35 L751.23 730.90 L752.49 730.15 L753.76 729.12 L755.02 727.82 L756.29 726.26 L757.55 724.47 L758.81 722.46 L760.08 720.27 L761.34 717.91 L762.61 715.43 L763.87 712.84 L765.14 710.19 L766.40 707.50" stroke="#111" stroke-width="1.7" fill="none" stroke-linecap="round" stroke-linejoin="round"/>
<text x="742.5" y="543.3" font-size="7.2" fill="#f02c2c" font-weight="bold" text-anchor="start" textLength="24.6" lengthAdjust="spacingAndGlyphs">Positive</text>
<text x="742.5" y="551.8" font-size="7.2" fill="#f02c2c" font-weight="bold" text-anchor="start" textLength="31.6" lengthAdjust="spacingAndGlyphs">Half-Cycle</text>
<text x="741.3" y="685.4" font-size="7.2" fill="#f02c2c" font-weight="bold" text-anchor="start" textLength="25.4" lengthAdjust="spacingAndGlyphs">Negative</text>
<text x="741.3" y="693.8" font-size="7.2" fill="#f02c2c" font-weight="bold" text-anchor="start" textLength="31.6" lengthAdjust="spacingAndGlyphs">Half-Cycle</text>
<text x="468.2" y="713.4" font-size="20.4" fill="#1d9be0" font-weight="normal" text-anchor="start" textLength="84" lengthAdjust="spacingAndGlyphs">balanstrap</text>
<text x="468.2" y="737.3" font-size="20.4" fill="#1d9be0" font-weight="normal" text-anchor="start" textLength="133.2" lengthAdjust="spacingAndGlyphs">(push-pull stage)</text>
</svg></body></html>
